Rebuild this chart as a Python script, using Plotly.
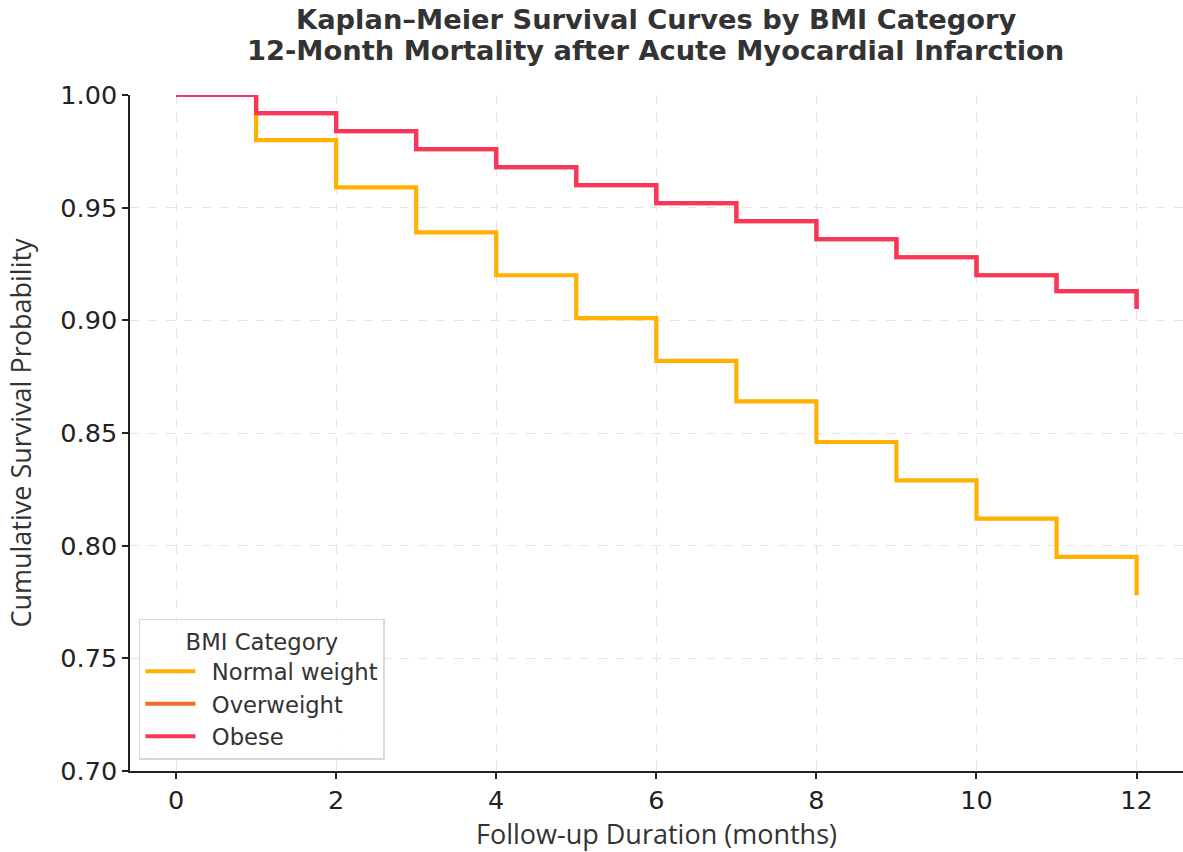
import plotly.graph_objects as go

months = [0, 1, 2, 3, 4, 5, 6, 7, 8, 9, 10, 11, 12]
normal_weight = [1.000, 0.980, 0.959, 0.939, 0.920, 0.901, 0.882, 0.864, 0.846, 0.829, 0.812, 0.795, 0.778]
overweight = [1.000, 0.992, 0.984, 0.976, 0.968, 0.960, 0.952, 0.944, 0.936, 0.928, 0.920, 0.913, 0.905]
obese = [1.000, 0.992, 0.984, 0.976, 0.968, 0.960, 0.952, 0.944, 0.936, 0.928, 0.920, 0.913, 0.905]

series_names = ["Normal weight", "Overweight", "Obese"]
series_values = [normal_weight, overweight, obese]
colors = ["#FFB000", "#F26B21", "#F7365B"]

x_ticks = [0, 2, 4, 6, 8, 10, 12]
y_ticks = [0.70, 0.75, 0.80, 0.85, 0.90, 0.95, 1.00]

title_lines = ["Kaplan–Meier Survival Curves by BMI Category",
               "12-Month Mortality after Acute Myocardial Infarction"]

fig = go.Figure()
for name, vals, col in zip(series_names, series_values, colors):
    fig.add_trace(go.Scatter(
        x=months, y=vals, name="\u2002" + name, mode="lines",
        line=dict(color=col, width=4.2, shape="hv"),
    ))

# title lines (plot area spans 676 px from top margin of 95 px)
for txt, yy in zip(title_lines, [1 + (95 - 20) / 676, 1 + (95 - 50) / 676]):
    fig.add_annotation(
        text="<b>" + txt + "</b>", xref="paper", yref="paper",
        x=0.4995, y=yy, xanchor="center", yanchor="middle", showarrow=False,
        font=dict(family="DejaVu Sans", size=27.3, color="#333333"),
    )

fig.update_layout(
    width=1183, height=852,
    paper_bgcolor="white", plot_bgcolor="white",
    margin=dict(l=130, r=0, t=95, b=81),
    font=dict(family="DejaVu Sans", color="#222222"),
    legend=dict(
        title=dict(text="BMI Category", side="top center",
                   font=dict(family="DejaVu Sans", size=22.7, color="#333333")),
        x=0.0085, y=0.0163, xanchor="left", yanchor="bottom",
        bgcolor="rgba(255,255,255,0.85)", bordercolor="#d8d8d8", borderwidth=1.5,
        font=dict(family="DejaVu Sans", size=22.7, color="#333333"),
        itemwidth=50, tracegroupgap=6,
    ),
)

fig.update_xaxes(
    range=[-0.575, 12.58], tickvals=x_ticks, ticktext=[str(v) for v in x_ticks],
    showline=True, linecolor="#222222", linewidth=1.5,
    ticks="outside", ticklen=6, tickwidth=1.5, tickcolor="#222222",
    tickfont=dict(family="DejaVu Sans", size=25.5, color="#222222"),
    showgrid=True, gridcolor="#e4e4e4", griddash="dash", gridwidth=1,
    zeroline=False,
    title=dict(text="Follow-up Duration (months)", standoff=18,
               font=dict(family="Open Sans", size=27, color="#333333")),
)
fig.update_yaxes(
    range=[0.70, 1.00], tickvals=y_ticks, ticktext=[f"{v:.2f}" for v in y_ticks],
    showline=True, linecolor="#222222", linewidth=1.5,
    ticks="outside", ticklen=6, tickwidth=1.5, tickcolor="#222222",
    tickfont=dict(family="DejaVu Sans", size=25.5, color="#222222"),
    showgrid=True, gridcolor="#e4e4e4", griddash="dash", gridwidth=1,
    zeroline=False,
    title=dict(text="Cumulative Survival Probability", standoff=21,
               font=dict(family="Open Sans", size=27, color="#333333")),
)

fig.write_html(
    "out.html",
    config={"displayModeBar": False},
    post_script="document.body.style.margin='0';document.body.style.overflow='hidden';",
)
